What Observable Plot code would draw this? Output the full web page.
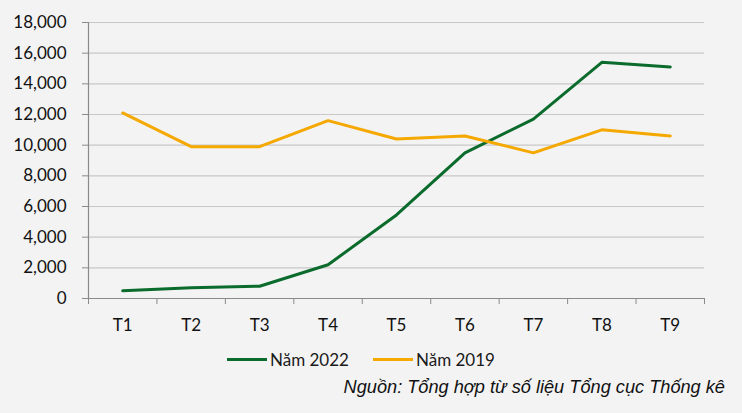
<!DOCTYPE html>
<html>
<head>
<meta charset="utf-8">
<script src="https://cdn.jsdelivr.net/npm/d3@7"></script>
<script src="https://cdn.jsdelivr.net/npm/@observablehq/plot@0.6"></script>
<style>
  html, body { margin: 0; padding: 0; background: #f3f3f3; }
  #wrap { position: relative; width: 742px; height: 413px; background: #f3f3f3; overflow: hidden; }
  #chart svg { display: block; }
  .legend { position: absolute; left: 227px; top: 349px; display: flex; align-items: center; font-family: Lato, "Open Sans", sans-serif; font-size: 17px; color: #1a1a1a; }
  .legend .item { display: flex; align-items: center; margin-right: 24px; }
  .legend .sw { width: 40px; height: 3px; margin-right: 3px; }
  .caption { position: absolute; right: 17px; top: 377px; font-family: "Liberation Sans", Arial, sans-serif; font-style: italic; font-size: 18.2px; color: #111; white-space: nowrap; }
</style>
</head>
<body>
<div id="wrap">
  <div id="chart"></div>
  <div class="legend" id="legend"></div>
  <div class="caption">Nguồn: Tổng hợp từ số liệu Tổng cục Thống kê</div>
</div>
<script>
const months = ["T1", "T2", "T3", "T4", "T5", "T6", "T7", "T8", "T9"];
const series = ["Năm 2022", "Năm 2019"];
const colors = ["#0b6b2c", "#f5a800"];
const values2022 = [500, 700, 800, 2200, 5450, 9500, 11700, 15400, 15100];
const values2019 = [12100, 9900, 9900, 11600, 10400, 10600, 9500, 11000, 10600];
const yTicks = [0, 2000, 4000, 6000, 8000, 10000, 12000, 14000, 16000, 18000];

const rows = [];
months.forEach((m, i) => {
  rows.push({idx: i + 1, month: m, series: series[0], value: values2022[i]});
});
months.forEach((m, i) => {
  rows.push({idx: i + 1, month: m, series: series[1], value: values2019[i]});
});
const boundaries = d3.range(0, months.length + 1).map(d => d + 0.5);

const chart = Plot.plot({
  width: 742,
  height: 340,
  marginTop: 22,
  marginBottom: 42,
  marginLeft: 88,
  marginRight: 38,
  style: {background: "transparent", fontFamily: "Lato, 'Open Sans', sans-serif"},
  x: {type: "linear", domain: [0.5, months.length + 0.5]},
  y: {domain: [0, 18000]},
  color: {domain: series, range: colors},
  marks: [
    Plot.gridY(yTicks, {stroke: "#c8c8c8", strokeOpacity: 1, strokeWidth: 1.2}),
    Plot.axisY({ticks: yTicks, tickSize: 6, tickPadding: 16, tickFormat: d3.format(","), fontSize: 17, stroke: "#8a8a8a", fill: "#111", label: null}),
    Plot.axisX({ticks: boundaries, tickSize: 6, tickFormat: () => "", stroke: "#8a8a8a", label: null}),
    Plot.axisX({ticks: d3.range(1, months.length + 1), tickSize: 0, tickPadding: 20, tickFormat: i => months[i - 1], fontSize: 17, fill: "#111", label: null}),
    Plot.ruleX([0.5], {stroke: "#8a8a8a", strokeWidth: 1.2}),
    Plot.ruleY([0], {stroke: "#8a8a8a", strokeWidth: 1.2}),
    Plot.line(rows, {x: "idx", y: "value", z: "series", stroke: "series", strokeWidth: 3, strokeLinejoin: "round"})
  ]
});
document.getElementById("chart").appendChild(chart);

const legend = document.getElementById("legend");
series.forEach((s, i) => {
  const item = document.createElement("div");
  item.className = "item";
  const sw = document.createElement("div");
  sw.className = "sw";
  sw.style.background = colors[i];
  const t = document.createElement("span");
  t.textContent = s;
  item.appendChild(sw);
  item.appendChild(t);
  legend.appendChild(item);
});
</script>
</body>
</html>
